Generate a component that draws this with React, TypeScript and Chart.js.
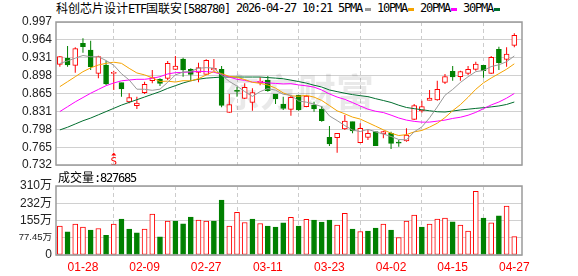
import React, { useEffect, useRef } from 'react';
import { Chart, registerables } from 'chart.js';

Chart.register(...registerables);

// ---------- data ----------
const DATES = [
  '01-23', '01-26', '01-27', '01-28', '01-29', '01-30', '02-02', '02-03', '02-04', '02-05',
  '02-06', '02-09', '02-10', '02-11', '02-12', '02-13', '02-24', '02-25', '02-26', '02-27',
  '03-02', '03-03', '03-04', '03-05', '03-06', '03-09', '03-10', '03-11', '03-12', '03-13',
  '03-16', '03-17', '03-18', '03-19', '03-20', '03-23', '03-24', '03-25', '03-26', '03-27',
  '03-30', '03-31', '04-01', '04-02', '04-03', '04-07', '04-08', '04-09', '04-10', '04-13',
  '04-14', '04-15', '04-16', '04-17', '04-20', '04-21', '04-22', '04-23', '04-24', '04-27',
];
const OPEN = [
  0.9185, 0.9297, 0.9167, 0.9575, 0.945, 0.9019, 0.9173, 0.9019, 0.8846, 0.8487,
  0.8419, 0.866, 0.8883, 0.8907, 0.8926, 0.9093, 0.9284, 0.9093, 0.9037, 0.9,
  0.908, 0.9093, 0.8296, 0.871, 0.8555, 0.8481, 0.8846, 0.8895, 0.8636, 0.845,
  0.8351, 0.8617, 0.8401, 0.8432, 0.8358, 0.7833, 0.7826, 0.7987, 0.8123, 0.7734,
  0.7833, 0.7938, 0.7894, 0.7907, 0.7732, 0.7765, 0.8166, 0.8321, 0.8518, 0.8524,
  0.8852, 0.9056, 0.8957, 0.9019, 0.9093, 0.9167, 0.9019, 0.9463, 0.9278, 0.9538,
];
const HIGH = [
  0.934, 0.9525, 0.95, 0.9667, 0.9624, 0.9346, 0.9253, 0.9068, 0.8846, 0.8648,
  0.8586, 0.8864, 0.908, 0.8926, 0.9247, 0.934, 0.9309, 0.9111, 0.9216, 0.9278,
  0.9284, 0.9155, 0.8636, 0.8772, 0.8833, 0.8741, 0.8945, 0.8969, 0.8636, 0.8586,
  0.8599, 0.8617, 0.8617, 0.8494, 0.8413, 0.8043, 0.7907, 0.8246, 0.8123, 0.8092,
  0.7981, 0.7938, 0.7956, 0.7938, 0.7783, 0.7999, 0.845, 0.8512, 0.871, 0.8883,
  0.9006, 0.9155, 0.9068, 0.9155, 0.9235, 0.9167, 0.934, 0.9513, 0.95, 0.976,
];
const LOW = [
  0.914, 0.914, 0.903, 0.94, 0.908, 0.8926, 0.8802, 0.871, 0.8586, 0.8463,
  0.8358, 0.8636, 0.8833, 0.8784, 0.8895, 0.908, 0.8957, 0.8883, 0.8852, 0.8988,
  0.9068, 0.8389, 0.829, 0.8586, 0.8543, 0.8327, 0.8796, 0.8679, 0.845, 0.8339,
  0.8234, 0.8327, 0.8389, 0.8308, 0.8123, 0.7672, 0.7548, 0.7968, 0.7907, 0.7721,
  0.7783, 0.7678, 0.7814, 0.7616, 0.766, 0.7752, 0.8154, 0.829, 0.8518, 0.8512,
  0.8821, 0.8883, 0.8883, 0.8988, 0.9068, 0.8938, 0.9006, 0.908, 0.9142, 0.95,
];
const CLOSE = [
  0.9327, 0.9173, 0.9476, 0.9513, 0.9142, 0.9327, 0.8821, 0.9037, 0.8728, 0.8568,
  0.8469, 0.8815, 0.8938, 0.8833, 0.9204, 0.9155, 0.908, 0.9, 0.9124, 0.926,
  0.9111, 0.8425, 0.844, 0.8685, 0.8759, 0.866, 0.8877, 0.8698, 0.8543, 0.837,
  0.8574, 0.8339, 0.8599, 0.8358, 0.8141, 0.7709, 0.7907, 0.8135, 0.795, 0.7999,
  0.7907, 0.7678, 0.7938, 0.7721, 0.7724, 0.7876, 0.8419, 0.8401, 0.8561, 0.8722,
  0.8957, 0.895, 0.905, 0.9093, 0.9192, 0.9068, 0.9315, 0.9216, 0.9377, 0.9723,
];
// volume in 万
const VOLUME = [
  129.4, 103.7, 138.4, 124.9, 111.4, 119, 88.8, 138.4, 161, 115.9,
  99.2, 115.9, 183.5, 81.2, 152, 152, 139.8, 170, 156.5, 152,
  152, 246.6, 129.4, 191.2, 146, 161, 141.6, 129.4, 124.9, 144.3,
  168.6, 129.4, 159.6, 156.5, 147.4, 156.5, 133.9, 186.7, 115.9, 105.5,
  106.9, 120.4, 138.4, 111.4, 78.5, 152, 179, 124.9, 138.4, 161,
  165.5, 148.8, 133.9, 106.9, 285.9, 165.5, 144.3, 175.9, 219.6, 82.77,
];
const MA5 = [
  0.92, 0.925, 0.93, 0.935, 0.9326, 0.9326, 0.9256, 0.9168, 0.9011, 0.8896,
  0.8725, 0.8723, 0.8704, 0.8725, 0.8852, 0.8989, 0.9042, 0.9054, 0.9113, 0.9124,
  0.9115, 0.8985, 0.8869, 0.8782, 0.8681, 0.8591, 0.868, 0.8736, 0.8707, 0.863,
  0.8612, 0.8505, 0.8485, 0.8448, 0.8402, 0.8229, 0.8143, 0.805, 0.7968, 0.794,
  0.798, 0.7934, 0.7894, 0.7849, 0.7792, 0.7786, 0.7934, 0.8026, 0.8194, 0.8396,
  0.8612, 0.872, 0.8849, 0.8956, 0.905, 0.9072, 0.9144, 0.9177, 0.9234, 0.934,
];
const MA10 = [
  0.8772, 0.8864, 0.8956, 0.9049, 0.912, 0.9173, 0.9204, 0.9225, 0.9204, 0.9111,
  0.9026, 0.899, 0.8936, 0.8868, 0.8874, 0.8857, 0.8883, 0.8879, 0.8919, 0.8988,
  0.9052, 0.9014, 0.8962, 0.8948, 0.8903, 0.8853, 0.8833, 0.8803, 0.8745, 0.8656,
  0.8602, 0.8593, 0.8611, 0.8578, 0.8516, 0.8421, 0.8324, 0.8268, 0.8208, 0.8171,
  0.8105, 0.8039, 0.7972, 0.7909, 0.7866, 0.7883, 0.7934, 0.796, 0.8022, 0.8094,
  0.8199, 0.8327, 0.8438, 0.8575, 0.8723, 0.8842, 0.8932, 0.9013, 0.9095, 0.9195,
];
const MA20 = [
  0.831, 0.84, 0.849, 0.857, 0.865, 0.872, 0.879, 0.884, 0.888, 0.8895,
  0.8908, 0.8908, 0.8926, 0.8957, 0.9007, 0.9031, 0.9037, 0.9043, 0.9056, 0.905,
  0.9039, 0.9002, 0.8949, 0.8908, 0.8889, 0.8855, 0.8858, 0.8841, 0.8832, 0.8822,
  0.8827, 0.8804, 0.8787, 0.8763, 0.871, 0.8637, 0.8579, 0.8536, 0.8477, 0.8414,
  0.8354, 0.8316, 0.8292, 0.8244, 0.8191, 0.8152, 0.8129, 0.8114, 0.8115, 0.8133,
  0.8152, 0.8183, 0.8205, 0.8242, 0.8295, 0.8363, 0.8433, 0.8487, 0.8559, 0.8645,
];
const MA30 = [
  0.797, 0.802, 0.808, 0.814, 0.819, 0.825, 0.831, 0.837, 0.843, 0.848,
  0.853, 0.858, 0.863, 0.868, 0.874, 0.879, 0.884, 0.888, 0.891, 0.893,
  0.894, 0.895, 0.895, 0.895, 0.895, 0.895, 0.895, 0.894, 0.893, 0.8918,
  0.8893, 0.8866, 0.8837, 0.8798, 0.8765, 0.871, 0.868, 0.865, 0.8624, 0.8605,
  0.8587, 0.8549, 0.8515, 0.8479, 0.8428, 0.8386, 0.8364, 0.8344, 0.8325, 0.8307,
  0.8302, 0.832, 0.834, 0.8354, 0.8369, 0.8382, 0.8397, 0.8414, 0.8442, 0.8487,
];
const PRICE_TICKS = [0.732, 0.765, 0.798, 0.831, 0.865, 0.898, 0.931, 0.964, 0.997];
const VOLUME_TICKS = [0, 77.45, 154.9, 232.35, 309.8];
const VOLUME_TICK_LABELS = ['0', '77.45万', '155万', '232万', '310万'];
const DATE_TICK_INDEX = [3, 11, 19, 27, 35, 43, 51, 59];
const SIGNAL_INDEX = 7;
const SIGNAL_TEXT = 'S';
const LAST_VOLUME = '827685';
const TITLE_CODE = '[588780]';
const TITLE_TIME = '2026-04-27 10:21';

const RED = '#ff0000';
const GREEN = '#008000';
const MA_COLORS = ['#999999', '#f5a300', '#ff00ff', '#006e2e'];
const MA_NAMES = ['5PMA', '10PMA', '20PMA', '30PMA'];
const MONO = "'DejaVu Sans Mono', 'Liberation Mono', monospace";
const CJK = "'Noto Sans CJK SC', sans-serif";
const SANS = "'Liberation Sans', 'Noto Sans CJK SC', sans-serif";

// header layout (pixel positions of the legend pieces)
const LEGEND_TEXT_X = [338, 377, 420, 463];
const LEGEND_SWATCH_X = [365, 408, 451, 494];

const N = CLOSE.length;
const candleUp = (i: number) => CLOSE[i] >= OPEN[i];
const volUp = (i: number) => (i === 0 ? CLOSE[i] >= OPEN[i] : CLOSE[i] >= CLOSE[i - 1]);

const framePlugin = {
  id: 'frame',
  afterDraw(chart: any) {
    const { ctx, chartArea: a } = chart;
    ctx.save();
    ctx.strokeStyle = '#9a9a9a';
    ctx.lineWidth = 1.5;
    ctx.strokeRect(a.left, a.top, a.right - a.left, a.bottom - a.top);
    ctx.restore();
  },
};

const watermarkPlugin = {
  id: 'watermark',
  beforeDatasetsDraw(chart: any) {
    const { ctx } = chart;
    ctx.save();
    ctx.fillStyle = 'rgba(0,0,0,0.085)';
    ctx.font = `bold 38px ${CJK}`;
    ctx.textBaseline = 'alphabetic';
    ctx.fillText('东方财富', 222, 106);
    ctx.restore();
  },
};

const signalPlugin = {
  id: 'signal',
  afterDatasetsDraw(chart: any) {
    const { ctx, chartArea: a } = chart;
    const x = chart.scales.x.getPixelForValue(SIGNAL_INDEX);
    ctx.save();
    ctx.fillStyle = RED;
    ctx.beginPath();
    ctx.moveTo(x, a.bottom - 12.5);
    ctx.lineTo(x - 2.5, a.bottom - 9.5);
    ctx.lineTo(x + 2.5, a.bottom - 9.5);
    ctx.closePath();
    ctx.fill();
    ctx.font = `11px ${MONO}`;
    ctx.textAlign = 'center';
    ctx.textBaseline = 'alphabetic';
    ctx.fillText(SIGNAL_TEXT, x, a.bottom - 0.5);
    ctx.restore();
  },
};

function xAxis(showLabels: boolean) {
  return {
    type: 'linear',
    min: -0.5,
    max: 60,
    offset: false,
    afterBuildTicks: (s: any) => {
      s.ticks = DATE_TICK_INDEX.map((v) => ({ value: v }));
    },
    afterFit: (s: any) => {
      s.height = showLabels ? 21 : 0;
      s.paddingLeft = 0;
      s.paddingRight = 0;
    },
    grid: { color: '#cccccc', lineWidth: 1, drawTicks: false },
    border: { display: false, dash: [4, 3] },
    ticks: {
      display: showLabels,
      autoSkip: false,
      maxRotation: 0,
      minRotation: 0,
      padding: 5,
      color: RED,
      font: { family: SANS, size: 12 },
      callback: (v: any) => DATES[v] ?? '',
    },
  };
}

export default function App() {
  const priceRef = useRef<HTMLCanvasElement | null>(null);
  const volRef = useRef<HTMLCanvasElement | null>(null);

  useEffect(() => {
    const idx = Array.from({ length: N }, (_, i) => i);
    const maSets = [MA5, MA10, MA20, MA30].map((arr, k) => ({
      type: 'line' as const,
      label: MA_NAMES[k],
      data: arr.map((v, i) => ({ x: i, y: v })),
      borderColor: MA_COLORS[k],
      borderWidth: 1,
      pointRadius: 0,
      tension: 0,
      fill: false,
      order: 0,
    }));

    const price = new Chart(priceRef.current!, {
      type: 'bar',
      data: {
        datasets: [
          ...maSets,
          {
            type: 'bar',
            label: 'body',
            data: idx.map((i) => ({ x: i, y: [OPEN[i], CLOSE[i]] })) as any,
            backgroundColor: idx.map((i) => (candleUp(i) ? '#ffffff' : GREEN)),
            borderColor: idx.map((i) => (candleUp(i) ? RED : GREEN)),
            borderWidth: 1,
            borderSkipped: false,
            barThickness: 5,
            minBarLength: 1,
            grouped: false,
            order: 1,
          },
          {
            type: 'bar',
            label: 'wick',
            data: idx.map((i) => ({ x: i, y: [LOW[i], HIGH[i]] })) as any,
            backgroundColor: idx.map((i) => (candleUp(i) ? RED : GREEN)),
            borderWidth: 0,
            inflateAmount: 0,
            barThickness: 1,
            grouped: false,
            order: 2,
          },
        ] as any,
      },
      options: {
        responsive: false,
        maintainAspectRatio: false,
        animation: false,
        events: [],
        layout: { padding: { top: 22, right: 56, bottom: 5, left: 0 } },
        plugins: { legend: { display: false }, tooltip: { enabled: false } },
        scales: {
          x: xAxis(false) as any,
          y: {
            type: 'linear',
            min: 0.732,
            max: 0.997,
            afterBuildTicks: (s: any) => {
              s.ticks = PRICE_TICKS.map((v) => ({ value: v }));
            },
            afterFit: (s: any) => {
              s.width = 56;
              s.paddingTop = 0;
              s.paddingBottom = 0;
            },
            grid: { color: '#d0d0d0', lineWidth: 1, drawTicks: false },
            border: { display: false },
            ticks: {
              autoSkip: false,
              padding: 4,
              color: '#222222',
              font: { family: SANS, size: 12 },
              callback: (v: any) => Number(v).toFixed(3),
            },
          },
        },
      },
      plugins: [watermarkPlugin, signalPlugin, framePlugin],
    });

    const volume = new Chart(volRef.current!, {
      type: 'bar',
      data: {
        datasets: [
          {
            label: 'volume',
            data: idx.map((i) => ({ x: i, y: VOLUME[i] })) as any,
            backgroundColor: idx.map((i) => (volUp(i) ? '#ffffff' : GREEN)),
            borderColor: idx.map((i) => (volUp(i) ? RED : GREEN)),
            borderWidth: 1,
            borderSkipped: false,
            barThickness: 5,
            grouped: false,
          },
        ],
      },
      options: {
        responsive: false,
        maintainAspectRatio: false,
        animation: false,
        events: [],
        layout: { padding: { top: 16, right: 56, bottom: 0, left: 0 } },
        plugins: { legend: { display: false }, tooltip: { enabled: false } },
        scales: {
          x: xAxis(true) as any,
          y: {
            type: 'linear',
            min: 0,
            max: 309.8,
            afterBuildTicks: (s: any) => {
              s.ticks = VOLUME_TICKS.map((v) => ({ value: v }));
            },
            afterFit: (s: any) => {
              s.width = 56;
              s.paddingTop = 0;
              s.paddingBottom = 0;
            },
            grid: { color: '#d0d0d0', lineWidth: 1, drawTicks: false },
            border: { display: false },
            ticks: {
              autoSkip: false,
              padding: 4,
              color: '#222222',
              font: (ctx: any) => ({ family: SANS, size: ctx.index === 1 ? 9.5 : 12 }),
              callback: (v: any, i: number) => VOLUME_TICK_LABELS[i] ?? '',
            },
          },
        },
      },
      plugins: [framePlugin],
    });

    return () => {
      price.destroy();
      volume.destroy();
    };
  }, []);

  const mono: React.CSSProperties = { fontFamily: MONO, letterSpacing: '-1.22px' };
  const cjk: React.CSSProperties = { fontFamily: CJK };
  const abs = (left: number, top: number): React.CSSProperties => ({
    position: 'absolute',
    left,
    top,
    fontSize: 12,
    lineHeight: '14px',
    whiteSpace: 'nowrap',
    color: '#000',
  });

  return (
    <div
      style={{
        position: 'fixed',
        left: 0,
        top: 0,
        width: 578,
        height: 276,
        background: '#ffffff',
        overflow: 'hidden',
      }}
    >
      <div style={abs(56, 1)}>
        <span style={cjk}>科创芯片设计</span>
        <span style={mono}>ETF</span>
        <span style={cjk}>国联安</span>
        <span style={mono}>{TITLE_CODE}</span>
      </div>
      <div style={{ ...abs(236, 1), ...mono }}>{TITLE_TIME}</div>
      {MA_NAMES.map((name, k) => (
        <React.Fragment key={name}>
          <div style={{ ...abs(LEGEND_TEXT_X[k], 1), ...mono }}>{name}</div>
          <div
            style={{
              position: 'absolute',
              left: LEGEND_SWATCH_X[k],
              top: 8,
              width: 6,
              height: 3,
              background: MA_COLORS[k],
            }}
          />
        </React.Fragment>
      ))}
      <canvas ref={priceRef} width={578} height={170} style={{ position: 'absolute', left: 0, top: 0 }} />
      <canvas ref={volRef} width={578} height={106} style={{ position: 'absolute', left: 0, top: 170 }} />
      <div style={abs(58, 170)}>
        <span style={cjk}>成交量</span>
        <span style={mono}>{':' + LAST_VOLUME}</span>
      </div>
    </div>
  );
}
